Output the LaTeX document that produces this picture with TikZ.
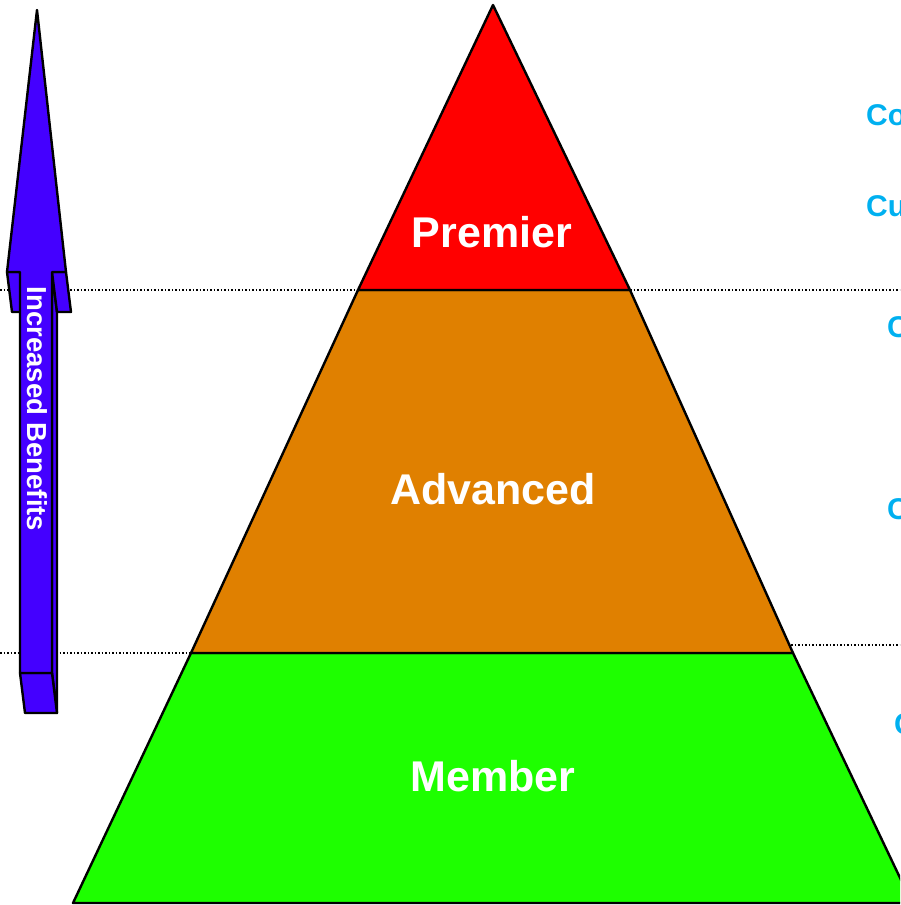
\documentclass[tikz,border=0pt]{standalone}
\usepackage{fontspec}
\setmainfont{Liberation Sans}
\definecolor{tierred}{RGB}{255,0,0}
\definecolor{tierorange}{RGB}{224,128,0}
\definecolor{tiergreen}{RGB}{30,255,0}
\definecolor{arrowblue}{RGB}{68,0,255}
\definecolor{sideblue}{RGB}{0,176,240}
\tikzset{
  tier/.style={draw=black, line width=2.4pt, line join=round},
  tierlabel/.style={text=white, font=\fontsize{43}{50}\selectfont\bfseries, inner sep=0pt, anchor=base},
  sidelabel/.style={text=sideblue, font=\fontsize{30}{36}\selectfont\bfseries, inner sep=0pt, anchor=base west},
  sepline/.style={line width=2pt, dash pattern=on 1.6pt off 1.9pt},
  arrowface/.style={fill=arrowblue, draw=black, line width=2.4pt, line join=round}
}
\begin{document}
\begin{tikzpicture}[x=1pt,y=-1pt]
\useasboundingbox (0,0) rectangle (900,905);
\clip (0,0) rectangle (900,905);
% dotted separators
\coordinate (d1l) at (0,290); \coordinate (d1r) at (900,290);
\coordinate (d2l) at (0,653); \coordinate (d2m) at (300,653);
\coordinate (d3m) at (700,645); \coordinate (d3r) at (900,645);
\draw[sepline] (d1l) -- (d1r);
\draw[sepline] (d2l) -- (d2m);
\draw[sepline] (d3m) -- (d3r);
% arrow: hidden faces first
\draw[arrowface] (52,272) -- (57,312) -- (57,713) -- (52,673) -- cycle;
\draw[arrowface] (20,673) -- (52,673) -- (57,713) -- (25,713) -- cycle;
\draw[arrowface] (7,272) -- (20,272) -- (25,312) -- (12,312) -- cycle;
\draw[arrowface] (52,272) -- (66,272) -- (71,312) -- (57,312) -- cycle;
\draw[arrowface] (20,673) -- (20,272) -- (7,272) -- (37,10) -- (66,272) -- (52,272) -- (52,673) -- cycle;
\node[text=white, font=\fontsize{27.5}{30}\selectfont\bfseries, rotate=-90, inner sep=0pt] (arrowtext) at (37,409) {Increased Benefits};
% pyramid tiers
\draw[tier, fill=tiergreen] (191,653) -- (793,653) -- (912,903) -- (73,903) -- cycle;
\draw[tier, fill=tierorange] (358,290) -- (630,290) -- (793,653) -- (191,653) -- cycle;
\draw[tier, fill=tierred] (493,5) -- (630,290) -- (358,290) -- cycle;
\node[tierlabel] (premier) at (492,247) {Premier};
\node[tierlabel] (advanced) at (493,504) {Advanced};
\node[tierlabel] (member) at (493,791) {Member};
% side labels, cut off by the picture's right edge as in the reference
\node[sidelabel] (s1) at (866,125) {Co};
\node[sidelabel] (s2) at (866,216) {Cu};
\node[sidelabel] (s3) at (887,337) {C};
\node[sidelabel] (s4) at (887,519) {C};
\node[sidelabel] (s5) at (894,734) {C};
\end{tikzpicture}
\end{document}
